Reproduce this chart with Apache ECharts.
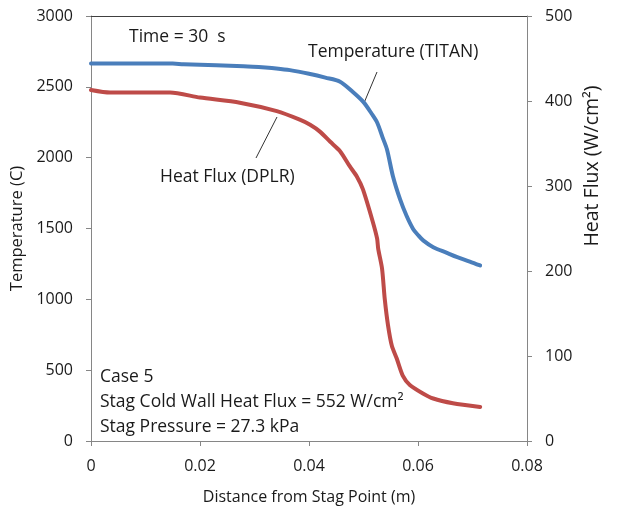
<!DOCTYPE html>
<html>
<head>
<meta charset="utf-8">
<script src="https://cdn.jsdelivr.net/npm/echarts@6/dist/echarts.min.js"></script>
<style>
  html, body { margin: 0; padding: 0; background: #fff; }
  #chart { width: 618px; height: 510px; }
</style>
</head>
<body>
<div id="chart"></div>
<script>
// Surface temperature from TITAN (left axis, °C)
const titanDistance = [0, 0.008, 0.015, 0.017, 0.023, 0.028, 0.032, 0.034, 0.0365, 0.040, 0.043, 0.0457, 0.048, 0.050, 0.0515, 0.0525, 0.0535, 0.0543, 0.0554, 0.0567, 0.0579, 0.0591, 0.0600, 0.0610, 0.0628, 0.0653, 0.0672, 0.0695, 0.0714];
const titanTemperature = [2665, 2665, 2664, 2659, 2652, 2645, 2636, 2630, 2618, 2592, 2565, 2536, 2465, 2392, 2310, 2248, 2143, 2059, 1869, 1707, 1590, 1497, 1454, 1414, 1368, 1328, 1298, 1267, 1239];

// Heat flux from DPLR (right axis, W/cm²)
const dplrDistance = [0, 0.0035, 0.0145, 0.020, 0.0273, 0.0341, 0.0383, 0.0402, 0.042, 0.0439, 0.0457, 0.0475, 0.0488, 0.0499, 0.0517, 0.0525, 0.0527, 0.0534, 0.0539, 0.0545, 0.0552, 0.0561, 0.0572, 0.0585, 0.0609, 0.0628, 0.0664, 0.0714];
const dplrHeatFlux = [413, 410, 410, 404, 398, 388, 378, 372, 364, 352, 341, 323, 311, 296, 258, 238, 226, 203, 167, 136, 112, 97, 77, 66, 56, 50, 44.5, 40];

const xTicks = [0, 0.02, 0.04, 0.06, 0.08];
const tempTicks = [0, 500, 1000, 1500, 2000, 2500, 3000];
const fluxTicks = [0, 100, 200, 300, 400, 500];

const FONT = 'Open Sans';
const TXT = '#1a1a1a';
const AXIS = '#868686';
const NOTE_FONT = '17.5px "Open Sans"';

const pairs = (xs, ys) => xs.map((x, i) => [x, ys[i]]);

const chart = echarts.init(document.getElementById('chart'));

const baseX = {
  type: 'value',
  min: xTicks[0],
  max: xTicks[xTicks.length - 1],
  interval: xTicks[1] - xTicks[0],
  splitLine: { show: false }
};

const tickLabel = { fontSize: 16, color: TXT, fontFamily: FONT };

chart.setOption({
  animation: false,
  textStyle: { fontFamily: FONT },
  grid: { left: 91, right: 91, top: 16, bottom: 67, containLabel: false },
  xAxis: [
    Object.assign({}, baseX, {
      position: 'bottom',
      name: 'Distance from Stag Point (m)',
      nameLocation: 'middle',
      nameGap: 48,
      nameTextStyle: { fontSize: 16, color: TXT, fontFamily: FONT },
      axisLine: { show: true, onZero: false, lineStyle: { color: AXIS, width: 1 } },
      axisTick: { show: true, length: 5, lineStyle: { color: AXIS } },
      axisLabel: Object.assign({ margin: 17,
        formatter: v => (v === 0 ? '0' : v.toFixed(2)) }, tickLabel)
    }),
    Object.assign({}, baseX, {
      position: 'top',
      axisLine: { show: true, onZero: false, lineStyle: { color: '#404040', width: 1 } },
      axisTick: { show: false },
      axisLabel: { show: false }
    })
  ],
  yAxis: [
    {
      type: 'value',
      position: 'left',
      min: tempTicks[0],
      max: tempTicks[tempTicks.length - 1],
      interval: tempTicks[1] - tempTicks[0],
      name: 'Temperature (C)',
      nameLocation: 'middle',
      nameGap: 63,
      nameTextStyle: { fontSize: 16.5, color: TXT, fontFamily: FONT },
      splitLine: { show: false },
      axisLine: { show: true, onZero: false, lineStyle: { color: AXIS, width: 1 } },
      axisTick: { show: true, length: 5, lineStyle: { color: AXIS } },
      axisLabel: Object.assign({ margin: 18, formatter: v => String(v) }, tickLabel)
    },
    {
      type: 'value',
      position: 'right',
      min: fluxTicks[0],
      max: fluxTicks[fluxTicks.length - 1],
      interval: fluxTicks[1] - fluxTicks[0],
      splitLine: { show: false },
      axisLine: { show: true, onZero: false, lineStyle: { color: AXIS, width: 1 } },
      axisTick: { show: true, length: 5, lineStyle: { color: AXIS } },
      axisLabel: Object.assign({ margin: 18, formatter: v => String(v) }, tickLabel)
    }
  ],
  series: [
    {
      name: 'Temperature (TITAN)',
      type: 'line',
      xAxisIndex: 0,
      yAxisIndex: 0,
      data: pairs(titanDistance, titanTemperature),
      showSymbol: false,
      smooth: 0.3,
      lineStyle: { color: '#4a7ebb', width: 4, cap: 'round', join: 'round' },
      z: 3
    },
    {
      name: 'Heat Flux (DPLR)',
      type: 'line',
      xAxisIndex: 0,
      yAxisIndex: 1,
      data: pairs(dplrDistance, dplrHeatFlux),
      showSymbol: false,
      smooth: 0.25,
      lineStyle: { color: '#be4b48', width: 4, cap: 'round', join: 'round' },
      z: 3
    }
  ],
  graphic: [
    // right-hand axis title, set a little above the axis middle
    { type: 'text', x: 592, y: 166, rotation: Math.PI / 2,
      style: { text: 'Heat Flux (W/cm²)', font: '19.5px "Open Sans"', fill: TXT,
        align: 'center', verticalAlign: 'middle' } },
    { type: 'text', left: 129, top: 28,
      style: { text: 'Time = 30  s', font: NOTE_FONT, fill: TXT } },
    { type: 'text', left: 308, top: 43,
      style: { text: 'Temperature (TITAN)', font: NOTE_FONT, fill: TXT } },
    { type: 'line', shape: { x1: 377, y1: 72, x2: 364, y2: 103 },
      style: { stroke: '#333', lineWidth: 1 } },
    { type: 'text', left: 160, top: 168,
      style: { text: 'Heat Flux (DPLR)', font: NOTE_FONT, fill: TXT } },
    { type: 'line', shape: { x1: 277, y1: 117, x2: 256, y2: 158 },
      style: { stroke: '#333', lineWidth: 1 } },
    { type: 'text', left: 100, top: 368,
      style: { text: 'Case 5', font: NOTE_FONT, fill: TXT } },
    { type: 'text', left: 100, top: 393,
      style: { text: 'Stag Cold Wall Heat Flux = 552 W/cm²', font: NOTE_FONT, fill: TXT } },
    { type: 'text', left: 100, top: 418,
      style: { text: 'Stag Pressure = 27.3 kPa', font: NOTE_FONT, fill: TXT } }
  ]
});
</script>
</body>
</html>
